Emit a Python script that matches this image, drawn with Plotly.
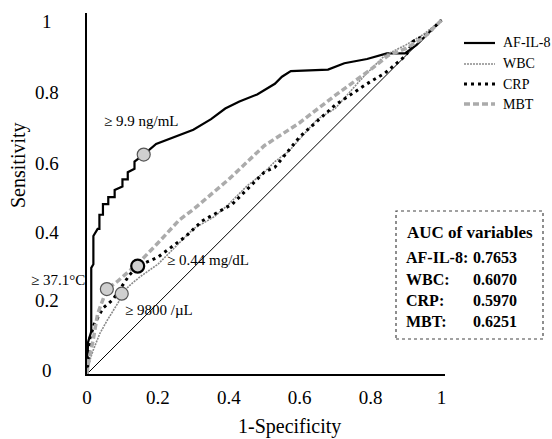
import plotly.graph_objects as go

# ---------------- data ----------------
il8_x = [0, 0.003, 0.012, 0.012, 0.018, 0.018, 0.03, 0.035, 0.035, 0.045, 0.045, 0.06, 0.06,
         0.078, 0.078, 0.1, 0.1, 0.115, 0.115, 0.134, 0.134, 0.16, 0.195, 0.25, 0.3, 0.35,
         0.39, 0.43, 0.48, 0.53, 0.55, 0.575, 0.68, 0.726, 0.79, 0.846, 0.897, 0.93, 0.96, 1]
il8_y = [0, 0.09, 0.12, 0.30, 0.31, 0.39, 0.41, 0.41, 0.45, 0.45, 0.48, 0.48, 0.50,
         0.50, 0.52, 0.53, 0.55, 0.55, 0.57, 0.58, 0.60, 0.62, 0.65, 0.67, 0.69, 0.72,
         0.75, 0.77, 0.79, 0.82, 0.84, 0.856, 0.86, 0.878, 0.89, 0.906, 0.906, 0.93, 0.96, 1]

wbc_x = [0, 0.01, 0.017, 0.036, 0.056, 0.078, 0.09, 0.098, 0.12, 0.15, 0.2, 0.25, 0.3,
         0.36, 0.4, 0.45, 0.5, 0.53, 0.57, 0.65, 0.7, 0.78, 0.84, 0.9, 0.95, 1]
wbc_y = [0, 0.045, 0.066, 0.114, 0.15, 0.186, 0.205, 0.227, 0.25, 0.275, 0.31, 0.36, 0.41,
         0.445, 0.48, 0.53, 0.57, 0.6, 0.63, 0.72, 0.75, 0.84, 0.9, 0.93, 0.96, 1]

crp_x = [0, 0.008, 0.02, 0.045, 0.073, 0.1, 0.12, 0.143, 0.2, 0.28, 0.324, 0.41, 0.5,
         0.53, 0.6, 0.7, 0.79, 0.84, 0.9, 0.92, 0.96, 1]
crp_y = [0, 0.10, 0.14, 0.186, 0.21, 0.25, 0.28, 0.305, 0.33, 0.39, 0.432, 0.48, 0.57,
         0.584, 0.67, 0.76, 0.82, 0.85, 0.9, 0.94, 0.96, 1]

mbt_x = [0, 0.005, 0.017, 0.03, 0.056, 0.084, 0.11, 0.142, 0.2, 0.26, 0.3, 0.4, 0.5,
         0.6, 0.7, 0.8, 0.85, 0.9, 0.95, 1]
mbt_y = [0, 0.04, 0.094, 0.17, 0.24, 0.26, 0.283, 0.31, 0.37, 0.435, 0.465, 0.55, 0.645,
         0.71, 0.787, 0.86, 0.9, 0.92, 0.95, 1]

# cut-off points
cut_labels = ["\u2265 9.9 ng/mL", "\u2265 9800 /\u00b5L", "\u2265 0.44 mg/dL", "\u2265 37.1\u00b0C"]
cut_x = [0.16, 0.098, 0.143, 0.056]
cut_y = [0.62, 0.227, 0.305, 0.24]

series_names = ["AF-IL-8", "WBC", "CRP", "MBT"]
auc_values = ["0.7653", "0.6070", "0.5970", "0.6251"]

x_ticks = [0, 0.2, 0.4, 0.6, 0.8, 1]
x_tick_text = ["0", "0.2", "0.4", "0.6", "0.8", "1"]
y_ticks = [0, 0.2, 0.4, 0.6, 0.8, 1]
y_tick_text = ["0", "0.2", "0.4", "0.6", "0.8", "1"]

# ---------------- figure ----------------
W, H = 552, 439
L, R, T, B = 87, 107, 13, 65
PW, PH = W - L - R, H - T - B

def px(x):
    return (x - L) / PW

def py(y):
    return (H - B - y) / PH

FONT = "Liberation Serif, Times New Roman, serif"

fig = go.Figure()

# reference diagonal
fig.add_trace(go.Scatter(x=[0, 1], y=[0, 1], mode="lines",
                         line=dict(color="black", width=1), showlegend=False, hoverinfo="skip"))

styles = {
    "AF-IL-8": dict(color="black", width=2.2),
    "WBC": dict(color="#8a8a8a", width=1.6, dash="2px,1px"),
    "CRP": dict(color="black", width=3, dash="3px,4px"),
    "MBT": dict(color="#ababab", width=3.5, dash="6px,3px"),
}
data = {"AF-IL-8": (il8_x, il8_y), "WBC": (wbc_x, wbc_y), "CRP": (crp_x, crp_y), "MBT": (mbt_x, mbt_y)}
for name in series_names:
    xs, ys = data[name]
    fig.add_trace(go.Scatter(x=xs, y=ys, mode="lines", name=name, line=styles[name],
                             showlegend=False))

# cut-off markers
fig.add_trace(go.Scatter(
    x=cut_x, y=cut_y, mode="markers", showlegend=False,
    marker=dict(size=13, color="#cfcfcf",
                line=dict(color=["#555", "#555", "black", "#555"], width=[1.2, 1.2, 2.2, 1.2]))))

annotations = []
shapes = []

# cut-off text
label_pos = [(141, 121), (159, 310), (208, 260), (58, 280)]
for t, (ax, ay) in zip(cut_labels, label_pos):
    annotations.append(dict(x=px(ax), y=py(ay), xref="paper", yref="paper", text=t,
                            showarrow=False, font=dict(family=FONT, size=15, color="black"),
                            xanchor="center", yanchor="middle"))

# y tick labels (centered)
y_label_px = [370, 300, 232, 163, 92, 22]
for v, txt, ypx in zip(y_ticks, y_tick_text, y_label_px):
    annotations.append(dict(x=px(47), y=py(ypx), xref="paper", yref="paper", text=txt,
                            showarrow=False, font=dict(family=FONT, size=19, color="black"),
                            xanchor="center", yanchor="middle"))

# axis titles
annotations.append(dict(x=px(289), y=py(426), xref="paper", yref="paper", text="1-Specificity",
                        showarrow=False, font=dict(family=FONT, size=20, color="black"),
                        xanchor="center", yanchor="middle"))
annotations.append(dict(x=px(18), y=py(165), xref="paper", yref="paper", text="Sensitivity",
                        showarrow=False, textangle=-90, font=dict(family=FONT, size=20, color="black"),
                        xanchor="center", yanchor="middle"))

# legend (drawn manually to keep exact placement)
legend_y = [43, 64, 84, 104]
for name, ly in zip(series_names, legend_y):
    st = styles[name]
    shapes.append(dict(type="line", xref="paper", yref="paper",
                       x0=px(464), x1=px(495), y0=py(ly), y1=py(ly),
                       line=dict(color=st["color"], width=st["width"], dash=st.get("dash", "solid"))))
    annotations.append(dict(x=px(501), y=py(ly), xref="paper", yref="paper", text=name,
                            showarrow=False, font=dict(family=FONT, size=14, color="black"),
                            xanchor="left", yanchor="middle"))

# AUC box
annotations.append(dict(x=px(470), y=py(233), xref="paper", yref="paper", text="<b>AUC of variables</b>",
                        showarrow=False, font=dict(family=FONT, size=17, color="black"),
                        xanchor="center", yanchor="middle"))
row_y = [257, 279, 300, 321]
for name, val, ry in zip(series_names, auc_values, row_y):
    annotations.append(dict(x=px(404), y=py(ry), xref="paper", yref="paper", text=f"<b>{name}:</b>",
                            showarrow=False, font=dict(family=FONT, size=16, color="black"),
                            xanchor="left", yanchor="middle"))
    annotations.append(dict(x=px(471), y=py(ry), xref="paper", yref="paper", text=f"<b>{val}</b>",
                            showarrow=False, font=dict(family=FONT, size=16, color="black"),
                            xanchor="left", yanchor="middle"))

shapes.append(dict(type="rect", xref="paper", yref="paper",
                   x0=px(396), x1=px(543), y0=py(339), y1=py(211),
                   line=dict(color="#444", width=1.2, dash="dot")))

fig.update_layout(
    width=W, height=H,
    margin=dict(l=L, r=R, t=T, b=B, pad=0, autoexpand=False),
    paper_bgcolor="white", plot_bgcolor="white",
    font=dict(family=FONT, color="black"),
    showlegend=False,
    xaxis=dict(range=[0, 1.01], showgrid=False, zeroline=False, showline=True,
               linecolor="black", linewidth=1.8, ticks="", tickvals=x_ticks, ticktext=x_tick_text,
               tickfont=dict(family=FONT, size=19, color="black"), ticklabelstandoff=5,
               fixedrange=True),
    yaxis=dict(range=[0, 1.02], showgrid=False, zeroline=False, showline=True,
               linecolor="black", linewidth=1.8, ticks="", showticklabels=False,
               fixedrange=True),
    annotations=annotations,
    shapes=shapes,
)

fig.write_html("out.html", config={"displayModeBar": False},
               post_script="document.body.style.margin='0';")
